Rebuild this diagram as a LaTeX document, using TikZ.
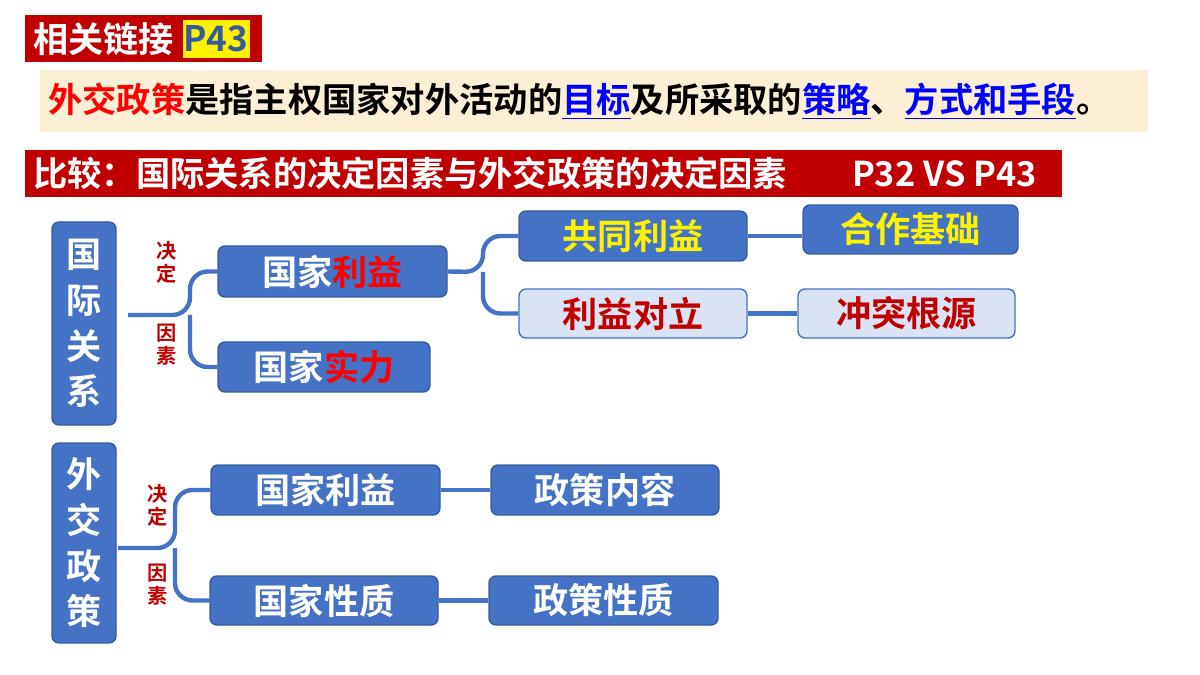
\documentclass[tikz,border=0pt]{standalone}
\usepackage{fontspec}
\setmainfont{Noto Sans CJK SC Bold}
\usetikzlibrary{calc}
\definecolor{bb}{HTML}{4472C4}
\definecolor{dred}{HTML}{C00000}
\definecolor{lt}{HTML}{DAE3F3}
\definecolor{beige}{HTML}{FBF0D6}
\newcommand\bx[7]{\node[#6,minimum width={(#4-#3)*0.02cm},minimum height={(#5-#2)*0.02cm}] (#1) at ({(#3+#4)/2},{(#2+#5)/2}) {#7};}
\tikzset{
 bl/.style={draw=bb!80!black,fill=bb,rounded corners=4pt,text=white,font=\fontsize{20}{24}\selectfont,line width=0.8pt,inner sep=0pt},
 lb/.style={draw=bb,fill=lt,rounded corners=4pt,text=dred,font=\fontsize{20}{24}\selectfont,line width=0.8pt,inner sep=0pt},
 conn/.style={draw=bb,line width=2.5pt,rounded corners=10pt},
 sm/.style={text=dred,font=\fontsize{11.5}{13}\selectfont,inner sep=0pt}
}
\begin{document}
\begin{tikzpicture}[x=0.02cm,y=-0.02cm]
\useasboundingbox (0,0) rectangle (1200,675);
\fill[white] (0,0) rectangle (1200,675);
% headers
\fill[dred] (25,15) rectangle (262,62);
\fill[yellow] (183,20) rectangle (250,58);
\node[text=white,font=\fontsize{20}{24}\selectfont,anchor=west,inner sep=0pt] (t1) at (33,39) {相关链接};
\node[text=bb!80!black,font=\fontsize{20}{24}\selectfont] (t2) at (216,39) {P43};
\fill[beige] (40,70) rectangle (1148,132);
\node[font=\fontsize{19.5}{22}\selectfont,anchor=west,inner sep=0pt] (def) at (48,101) {\textcolor{red}{外交政策}是指主权国家对外活动的\textcolor{blue}{\underline{目标}}及所采取的\textcolor{blue}{\underline{策略}}、\textcolor{blue}{\underline{方式和手段}}。};
\fill[dred] (25,150) rectangle (1062,197);
\node[text=white,font=\fontsize{19.5}{22}\selectfont,anchor=west,inner sep=0pt] (t3) at (33,173) {比较：国际关系的决定因素与外交政策的决定因素\hspace{1.9em}P32 VS P43};
% boxes
\bx{gj}{222}{52}{116}{425}{bl,align=center,font=\fontsize{20}{26}\selectfont}{国\\际\\关\\系}
\bx{wj}{443}{52}{116}{643}{bl,align=center,font=\fontsize{20}{26}\selectfont}{外\\交\\政\\策}
\bx{ly}{246}{218}{447}{297}{bl}{国家\textcolor{red}{利益}}
\bx{sl}{342}{218}{430}{392}{bl}{国家\textcolor{red}{实力}}
\bx{gt}{211}{519}{747}{261}{bl,text=yellow}{共同利益}
\bx{dl}{289}{519}{747}{338}{lb}{利益对立}
\bx{hz}{205}{803}{1018}{254}{bl,text=yellow}{合作基础}
\bx{ct}{289}{798}{1015}{338}{lb}{冲突根源}
\bx{ly2}{465}{211}{440}{515}{bl}{国家利益}
\bx{nr}{465}{491}{719}{515}{bl}{政策内容}
\bx{xz}{576}{210}{438}{625}{bl}{国家性质}
\bx{zx}{576}{489}{718}{625}{bl}{政策性质}
% connectors
\coordinate (c1) at (190,315);
\draw[conn] (128,315) -- (c1) |- (ly.west);
\draw[conn] (c1) |- (sl.west);
\coordinate (c2) at (483,272);
\draw[conn] (ly.east) -- (c2) |- (gt.west);
\draw[conn] (c2) |- (dl.west);
\draw[conn] (gt.east) -- (hz.west|-gt.east);
\draw[conn] (dl.east) -- (ct.west);
\coordinate (c3) at (175,548);
\draw[conn] (118,548) -- (c3) |- (ly2.west);
\draw[conn] (c3) |- (xz.west);
\draw[conn] (ly2.east) -- (nr.west);
\draw[conn] (xz.east) -- (zx.west);
\node[sm,align=center] (l1) at (167,262) {决\\定};
\node[sm,align=center] (l2) at (167,345) {因\\素};
\node[sm,align=center] (l3) at (158,505) {决\\定};
\node[sm,align=center] (l4) at (158,585) {因\\素};
\end{tikzpicture}
\end{document}
